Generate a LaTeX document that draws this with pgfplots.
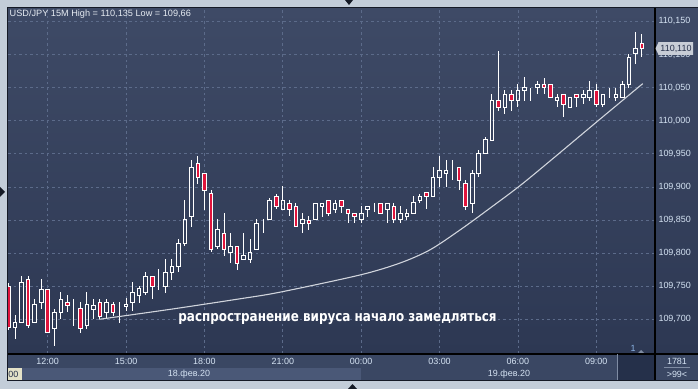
\documentclass[border=0pt]{standalone}
\usepackage{graphicx}
\usepackage{pgfplots}
\pgfplotsset{compat=1.18}
\usepackage{pgfplotstable}
\usepackage{fontspec}
\setmainfont{Liberation Sans}
\newfontfamily\annfont{DejaVu Sans}
\definecolor{framec}{HTML}{C3CDD9}
\definecolor{bgtop}{HTML}{3E4A66}
\definecolor{bgbot}{HTML}{2D3853}
\definecolor{gridc}{HTML}{5C6B8A}
\definecolor{candlered}{HTML}{E0143C}
\definecolor{labc}{HTML}{D5E3F3}
\definecolor{timerow}{HTML}{3A4763}
\definecolor{daterow}{HTML}{4A5877}
\definecolor{darkbox}{HTML}{25304A}
\definecolor{edgec}{HTML}{151A26}
\definecolor{curvec}{HTML}{D0D4DC}
\definecolor{titlec}{HTML}{E6EBF2}
\definecolor{sepc}{HTML}{7F8CA3}
\definecolor{beige}{HTML}{E4E2C8}
\definecolor{darktext}{HTML}{26304A}
\definecolor{onec}{HTML}{8CB4E6}
\definecolor{pricebox}{HTML}{C8CDD6}

\pgfplotstableread{
i O H L C
-6 109.750 109.755 109.684 109.687
-5 109.687 109.706 109.670 109.696
-4 109.696 109.765 109.696 109.756
-3 109.760 109.765 109.687 109.691
-2 109.695 109.731 109.695 109.722
-1 109.726 109.761 109.716 109.745
0 109.745 109.745 109.680 109.680
1 109.686 109.716 109.660 109.711
2 109.711 109.741 109.700 109.730
3 109.726 109.737 109.711 109.721
4 109.716 109.730 109.690 109.716
5 109.716 109.726 109.680 109.686
6 109.690 109.741 109.686 109.722
7 109.715 109.730 109.700 109.721
8 109.726 109.730 109.700 109.705
9 109.711 109.731 109.700 109.726
10 109.722 109.726 109.705 109.711
11 109.716 109.726 109.695 109.716
12 109.720 109.732 109.713 109.723
13 109.726 109.756 109.713 109.741
14 109.736 109.751 109.725 109.746
15 109.741 109.771 109.736 109.765
16 109.765 109.765 109.730 109.750
17 109.749 109.776 109.744 109.749
18 109.750 109.791 109.740 109.771
19 109.771 109.791 109.760 109.780
20 109.780 109.821 109.771 109.815
21 109.815 109.880 109.810 109.851
22 109.855 109.941 109.840 109.930
23 109.936 109.946 109.905 109.915
24 109.921 109.921 109.865 109.894
25 109.890 109.895 109.801 109.806
26 109.810 109.851 109.806 109.836
27 109.830 109.861 109.795 109.806
28 109.801 109.830 109.785 109.810
29 109.810 109.810 109.774 109.785
30 109.791 109.831 109.791 109.796
31 109.791 109.821 109.785 109.801
32 109.806 109.851 109.806 109.845
33 109.846 109.851 109.830 109.846
34 109.851 109.883 109.851 109.879
35 109.886 109.890 109.866 109.871
36 109.866 109.901 109.866 109.879
37 109.875 109.880 109.856 109.866
38 109.870 109.875 109.840 109.840
39 109.845 109.860 109.830 109.851
40 109.850 109.856 109.835 109.845
41 109.851 109.875 109.851 109.875
42 109.871 109.875 109.855 109.875
43 109.879 109.879 109.856 109.860
44 109.866 109.880 109.860 109.875
45 109.879 109.879 109.860 109.871
46 109.866 109.866 109.845 109.860
47 109.860 109.860 109.845 109.856
48 109.851 109.871 109.845 109.860
49 109.866 109.871 109.855 109.870
50 109.872 109.875 109.862 109.872
51 109.875 109.875 109.860 109.860
52 109.866 109.875 109.845 109.875
53 109.871 109.876 109.845 109.851
54 109.851 109.871 109.845 109.860
55 109.856 109.866 109.850 109.860
56 109.860 109.887 109.860 109.876
57 109.880 109.890 109.875 109.886
58 109.891 109.891 109.866 109.886
59 109.886 109.930 109.886 109.915
60 109.915 109.946 109.900 109.925
61 109.920 109.941 109.900 109.925
62 109.930 109.941 109.910 109.930
63 109.930 109.930 109.895 109.910
64 109.905 109.910 109.865 109.870
65 109.875 109.925 109.860 109.920
66 109.920 109.956 109.915 109.951
67 109.951 109.976 109.951 109.971
68 109.970 110.040 109.970 110.031
69 110.031 110.106 110.015 110.020
70 110.020 110.046 110.010 110.040
71 110.040 110.046 110.015 110.030
72 110.030 110.055 110.020 110.046
73 110.045 110.066 110.030 110.050
74 110.045 110.050 110.030 110.045
75 110.050 110.060 110.040 110.055
76 110.055 110.065 110.040 110.050
77 110.055 110.055 110.035 110.035
78 110.030 110.041 110.020 110.035
79 110.040 110.040 110.005 110.025
80 110.020 110.035 110.020 110.035
81 110.040 110.040 110.020 110.035
82 110.035 110.046 110.025 110.040
83 110.035 110.060 110.030 110.046
84 110.046 110.055 110.020 110.025
85 110.025 110.040 110.020 110.040
86 110.035 110.050 110.035 110.035
87 110.035 110.050 110.030 110.040
88 110.035 110.060 110.035 110.055
89 110.055 110.101 110.050 110.096
90 110.101 110.134 110.086 110.109
91 110.116 110.131 110.096 110.109
}\candles

\begin{document}
\begin{tikzpicture}
\useasboundingbox (0,0) rectangle (698bp,389bp);
\begin{scope}[x=1bp,y=1bp]
\fill[framec] (0,0) rectangle (698,389);
\shade[top color=bgtop, bottom color=bgbot] (655,35) rectangle (698,381);
\fill[timerow] (8,21) rectangle (698,35);
\fill[daterow] (8,9) rectangle (361,21);
\fill[timerow] (361,9) rectangle (698,21);
\fill[darkbox] (618,9) rectangle (655,35);
\fill[edgec] (345,389) -- (353,389) -- (349,384) -- cycle;
\fill[edgec] (348,0) -- (357,0) -- (352.5,5) -- cycle;
\fill[edgec] (0,202) -- (0,192) -- (5,197) -- cycle;
\end{scope}

\begin{axis}[
  at={(8bp,35bp)}, anchor=south west, scale only axis,
  width=647bp, height=346bp,
  xmin=-6.08, xmax=93, ymin=109.6476, ymax=110.1703,
  enlargelimits=false,
  axis line style={draw=none},
  axis background/.style={shade, top color=bgtop, bottom color=bgbot},
  xtick={0,12,24,36,48,60,72,84},
  xticklabels={12:00,15:00,18:00,21:00,00:00,03:00,06:00,09:00},
  ytick={109.70,109.75,109.80,109.85,109.90,109.95,110.00,110.05,110.10,110.15},
  yticklabels={{109,700},{109,750},{109,800},{109,850},{109,900},{109,950},{110,000},{110,050},{110,100},{110,150}},
  yticklabel pos=right,
  major tick length=0pt,
  tick style={draw=none},
  grid=major,
  major grid style={draw=gridc, line width=0.7bp, dash pattern=on 2.5bp off 3bp},
  xticklabel style={font=\fontsize{9}{10}\selectfont, text=labc, anchor=center, yshift=-7.5bp},
  yticklabel style={font=\fontsize{9}{10}\selectfont, text=labc},
]
\addplot[draw=none, mark=none, forget plot,
  error bars/.cd, y dir=plus, y explicit, error mark=none,
  error bar style={draw=white, line width=0.9bp, solid}]
  table[x=i, y expr={max(\thisrow{O},\thisrow{C})},
        y error plus expr={\thisrow{H}-max(\thisrow{O},\thisrow{C})}] \candles;
\addplot[draw=none, mark=none, forget plot,
  error bars/.cd, y dir=minus, y explicit, error mark=none,
  error bar style={draw=white, line width=0.9bp, solid}]
  table[x=i, y expr={min(\thisrow{O},\thisrow{C})},
        y error minus expr={min(\thisrow{O},\thisrow{C})-\thisrow{L}}] \candles;
\addplot[curvec, line width=1.1bp, smooth, mark=none] coordinates {
  (7.9,109.700) (18.7,109.715) (29.45,109.731) (35.57,109.741) (47.83,109.767)
  (53.95,109.785) (58.55,109.805) (63.14,109.835) (67.74,109.868)
  (73.35,109.910) (84.53,110.002) (91.12,110.056)};
\end{axis}

\begin{axis}[
  at={(8bp,35bp)}, anchor=south west, scale only axis,
  width=647bp, height=346bp,
  xmin=-6.08, xmax=93, ymin=0.0476, ymax=0.5703,
  enlargelimits=false, hide axis,
  ybar stacked, bar width=3.6bp, bar shift=0pt,
]
\addplot[draw=none, fill=none] table[x=i, y expr={min(\thisrow{O},\thisrow{C})-109.6}] \candles;
\addplot[fill=candlered, draw=white, line width=0.9bp] table[x=i, y expr={ifthenelse(\thisrow{O}>\thisrow{C},\thisrow{O}-\thisrow{C},0)}] \candles;
\addplot[fill=none, draw=white, line width=0.9bp] table[x=i, y expr={ifthenelse(\thisrow{O}>\thisrow{C},0,\thisrow{C}-\thisrow{O})}] \candles;
\end{axis}

\begin{scope}[x=1bp,y=1bp]
\draw[black, line width=1.2bp] (8,35) -- (698,35);
\draw[black, line width=1.2bp] (655,9) -- (655,381);
\draw[sepc, line width=0.8bp] (617.5,9) -- (617.5,35);
\draw[edgec, line width=1bp] (7.5,8.5) -- (7.5,381.5) -- (698,381.5);
\draw[edgec, line width=0.8bp] (7.5,8.6) -- (698,8.6);
% title
\node[anchor=west, inner sep=0pt, text=titlec, font=\fontsize{9.2}{10}\selectfont] at (9.5,374.5) {USD/JPY 15M High = 110,135 Low = 109,66};
% annotation
\node[text=white, inner sep=0pt, font=\annfont\bfseries\fontsize{12}{13}\selectfont] at (337.5,70) {\scalebox{1}[1.2]{распространение вируса начало замедляться}};
% date row
\fill[beige] (8,9.2) rectangle (22,20.8);
\node[anchor=west, inner sep=0pt, text=darktext, font=\fontsize{9}{10}\selectfont] at (8.3,15) {00};
\node[text=labc, inner sep=0pt, font=\fontsize{9}{10}\selectfont] at (189,15) {18.фев.20};
\node[text=labc, inner sep=0pt, font=\fontsize{9}{10}\selectfont] at (509,15) {19.фев.20};
% bottom right box
\node[text=labc, inner sep=0pt, font=\fontsize{9}{10}\selectfont] at (677,28) {1781};
\draw[sepc, line width=0.7bp] (664,21.5) -- (690,21.5);
\node[text=labc, inner sep=0pt, font=\fontsize{9}{10}\selectfont] at (677,14.5) {>99<};
% "1" marker
\node[text=onec, inner sep=0pt, font=\fontsize{9}{10}\selectfont] at (633,40.5) {1};
\fill[sepc] (638,36) -- (644,36) -- (641,39) -- cycle;
% last price box
\fill[pricebox] (655.5,340.5) -- (658.5,346.8) -- (693,346.8) -- (693,334.2) -- (658.5,334.2) -- cycle;
\node[text=darktext, inner sep=0pt, font=\fontsize{9}{10}\selectfont] at (676,340.5) {110,110};
\end{scope}
\end{tikzpicture}
\end{document}
